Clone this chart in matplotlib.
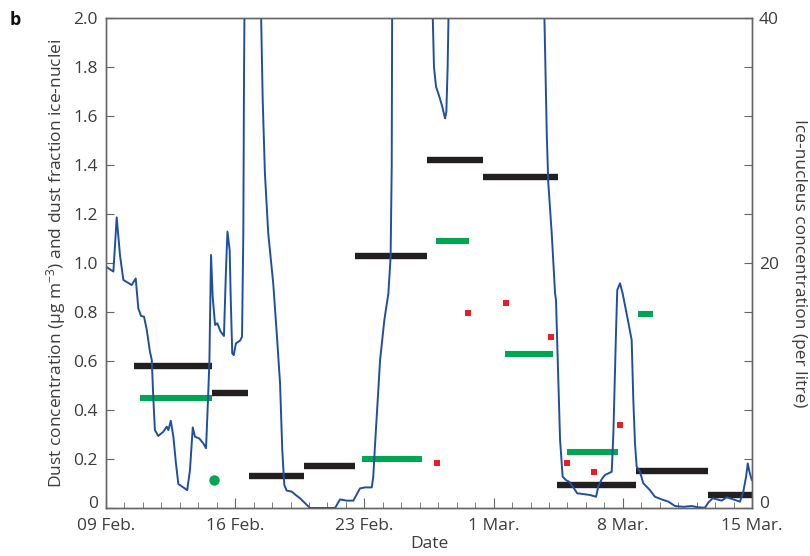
import matplotlib
matplotlib.use("Agg")
import matplotlib.pyplot as plt
import matplotlib.transforms as mtransforms
import numpy as np

plt.rcParams["font.family"] = ["Open Sans", "DejaVu Sans"]
plt.rcParams["mathtext.default"] = "regular"

# Time axis: days since 09 Feb. (2008)
tick_days = [0, 7, 14, 21, 28, 35]
tick_labels = ["09 Feb.", "16 Feb.", "23 Feb.", "1 Mar.", "8 Mar.", "15 Mar."]

# Dust concentration (µg m-3), continuous record
dust_day = [0.00, 0.40, 0.58, 0.76, 0.94, 1.39, 1.61, 1.75, 1.90, 2.06, 2.21, 2.38,
            2.48, 2.56, 2.65, 2.83, 3.10, 3.29, 3.38, 3.51, 3.65, 3.79, 3.92, 4.19,
            4.40, 4.55, 4.70, 4.82, 5.05, 5.27, 5.42, 5.49, 5.60, 5.69, 5.78, 5.91,
            6.03, 6.21, 6.39, 6.50, 6.58, 6.70, 6.76, 6.84, 6.92, 7.04, 7.26, 7.37,
            7.44, 7.48, 7.51, 7.91, 8.38, 8.49, 8.61, 8.79, 9.06, 9.25, 9.43, 9.55,
            9.66, 9.79, 10.06, 10.33, 10.51, 10.78, 11.05, 12.41, 12.68, 13.04, 13.40,
            13.76, 14.03, 14.40, 14.48, 14.57, 14.72, 14.85, 15.08, 15.30, 15.42,
            15.48, 15.51, 16.47, 17.64, 17.77, 17.88, 18.06, 18.22, 18.37, 18.44,
            18.51, 18.60, 21.35, 23.70, 23.88, 23.96, 24.15, 24.23, 24.33, 24.38,
            24.51, 24.60, 24.74, 24.92, 25.10, 25.32, 25.53, 25.86, 26.22, 26.55,
            26.67, 26.86, 27.04, 27.40, 27.49, 27.63, 27.70, 27.85, 27.99, 28.24,
            28.48, 28.57, 28.66, 28.75, 28.93, 29.11, 29.47, 29.74, 30.11, 30.47,
            30.83, 31.28, 31.73, 32.09, 32.45, 32.63, 32.87, 33.12, 33.36, 33.63,
            33.99, 34.35, 34.53, 34.68, 34.77, 34.86, 34.99, 35.10]
dust_conc = [0.985, 0.965, 1.186, 1.030, 0.931, 0.910, 0.937, 0.815, 0.784, 0.781,
             0.727, 0.638, 0.604, 0.454, 0.318, 0.294, 0.311, 0.332, 0.318, 0.356,
             0.291, 0.182, 0.098, 0.084, 0.073, 0.155, 0.329, 0.291, 0.284, 0.264,
             0.244, 0.373, 0.590, 1.033, 0.862, 0.747, 0.754, 0.720, 0.702, 0.971,
             1.128, 1.053, 0.849, 0.631, 0.624, 0.672, 0.683, 0.699, 1.121, 1.800,
             2.100, 2.900, 2.100, 1.665, 1.366, 1.121, 0.917, 0.713, 0.509, 0.237,
             0.094, 0.071, 0.067, 0.050, 0.040, 0.020, 0.000, 0.000, 0.035, 0.030,
             0.030, 0.080, 0.084, 0.084, 0.128, 0.250, 0.441, 0.604, 0.767, 0.876,
             1.026, 1.393, 2.200, 3.200, 2.200, 1.800, 1.720, 1.679, 1.638, 1.590,
             1.617, 1.800, 2.200, 3.500, 2.200, 1.529, 1.330, 1.120, 1.012, 0.876,
             0.849, 0.509, 0.280, 0.128, 0.114, 0.107, 0.084, 0.060, 0.057, 0.053,
             0.046, 0.087, 0.118, 0.135, 0.148, 0.305, 0.713, 0.890, 0.917, 0.876,
             0.781, 0.686, 0.441, 0.264, 0.169, 0.148, 0.101, 0.073, 0.046, 0.035,
             0.026, 0.008, 0.005, 0.008, 0.003, 0.001, 0.022, 0.040, 0.035, 0.030,
             0.044, 0.035, 0.026, 0.067, 0.128, 0.182, 0.148, 0.114, 0.110]

# Dust fraction of ice nuclei, per sampling period
frac_start = [1.50, 5.75, 7.75, 10.75, 13.50, 17.40, 20.40, 24.45, 28.70, 32.60]
frac_end = [5.75, 7.70, 10.75, 13.50, 17.40, 20.40, 24.50, 28.70, 32.60, 35.00]
frac_val = [0.58, 0.47, 0.13, 0.17, 1.03, 1.42, 1.35, 0.095, 0.15, 0.055]

# Ice-nucleus concentration (per litre), period averages
in_start = [1.85, 13.85, 17.90, 21.60, 24.95, 28.80]
in_end = [5.75, 17.10, 19.65, 24.20, 27.75, 29.65]
in_val = [9.0, 4.0, 21.8, 12.6, 4.6, 15.8]

# Ice-nucleus concentration (per litre), single samples
in_pt_day = [17.93, 19.64, 21.65, 24.10, 24.99, 26.43, 27.83]
in_pt_val = [3.7, 15.9, 16.7, 14.0, 3.7, 2.9, 6.8]
in_circ_day = [5.87]
in_circ_val = [2.3]

BLUE = "#1f4fa3"
BLACK = "#231f20"
GREEN = "#00a651"
RED = "#ed1c24"
TXT = "#3c3c3c"
SPINE = "#666666"

fig = plt.figure(figsize=(8.1, 5.56), dpi=100)
ax = fig.add_axes([106 / 810, 48 / 556, 646 / 810, 490 / 556])
ax2 = ax.twinx()
ax.set_zorder(ax2.get_zorder() + 1)
ax.patch.set_visible(False)

ax2.hlines(in_val, in_start, in_end, colors=GREEN, lw=4.4, capstyle="butt")
ax2.plot(in_pt_day, in_pt_val, "s", color=RED, ms=4.6, mew=0)
ax2.plot(in_circ_day, in_circ_val, "o", color=GREEN, ms=7.5, mew=0)

ax.hlines(frac_val, frac_start, frac_end, colors=BLACK, lw=4.6, capstyle="butt")
ax.plot(dust_day, dust_conc, color=BLUE, lw=1.4)

ax.set_xlim(0, 35)
ax.set_ylim(0, 2.0)
ax2.set_ylim(0, 40)

ax.set_xticks(tick_days)
ax.set_xticklabels(tick_labels)
ax.set_xticks(np.arange(0, 36, 1), minor=True)
ax.set_yticks(np.arange(0, 2.01, 0.2))
ax.set_yticklabels(["0"] + [f"{v:.1f}" for v in np.arange(0.2, 2.01, 0.2)])
ax2.set_yticks(np.arange(0, 41, 4))
ax2.set_yticklabels(["0" if v == 0 else (str(v) if v in (20, 40) else "") for v in range(0, 41, 4)])

for a in (ax, ax2):
    for s in a.spines.values():
        s.set_color(SPINE)
        s.set_linewidth(1.0)
    a.tick_params(which="both", direction="in", color=SPINE, labelcolor=TXT,
                  labelsize=12.5)
ax.tick_params(axis="x", which="major", length=7, pad=7)
ax.tick_params(axis="x", which="minor", length=4)
ax.tick_params(axis="y", length=6, pad=6)
ax2.tick_params(axis="y", length=6, pad=5)

# lift the two zero labels a little so they sit clear of the date labels
lift = mtransforms.ScaledTranslation(0, 4 / 72, fig.dpi_scale_trans)
fig.canvas.draw()
ax.get_yticklabels()[0].set_transform(ax.get_yticklabels()[0].get_transform() + lift)
ax2.get_yticklabels()[0].set_transform(ax2.get_yticklabels()[0].get_transform() + lift)

ax.set_xlabel("Date", fontsize=12.5, color=TXT, labelpad=2)
ax.set_ylabel("Dust concentration (μg m$^{-3}$) and dust fraction ice-nuclei",
              fontsize=12.5, color=TXT, labelpad=4)
ax2.set_ylabel("Ice-nucleus concentration (per litre)", fontsize=12.5, color=TXT,
               rotation=270, labelpad=20)

fig.text(10 / 810, 1 - 20 / 556, "b", fontsize=13, fontweight="bold", color="#111111",
         va="center", ha="left")

fig.savefig("out.png", dpi=100)
